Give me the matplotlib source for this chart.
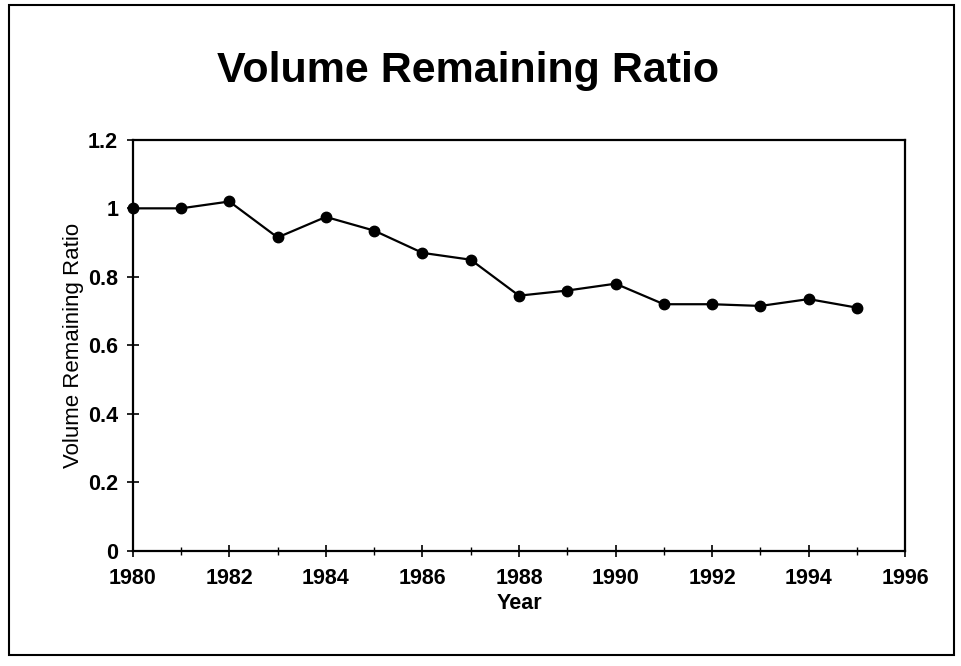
import matplotlib
matplotlib.use("Agg")
import matplotlib.pyplot as plt
from matplotlib.patches import Rectangle
from matplotlib.ticker import MultipleLocator

years = [1980, 1981, 1982, 1983, 1984, 1985, 1986, 1987,
         1988, 1989, 1990, 1991, 1992, 1993, 1994, 1995]
ratio = [1.00, 1.00, 1.02, 0.915, 0.975, 0.935, 0.87, 0.85,
         0.745, 0.76, 0.78, 0.72, 0.72, 0.715, 0.735, 0.71]
xticks = [1980, 1982, 1984, 1986, 1988, 1990, 1992, 1994, 1996]
yticks = [0, 0.2, 0.4, 0.6, 0.8, 1.0, 1.2]
yticklabels = ["0", "0.2", "0.4", "0.6", "0.8", "1", "1.2"]

plt.rcParams['font.family'] = ['Liberation Sans', 'DejaVu Sans']

fig = plt.figure(figsize=(9.62, 6.66), dpi=100)
fig.patches.append(Rectangle((0.009, 0.017), 0.983, 0.975, transform=fig.transFigure,
                             fill=False, edgecolor='black', linewidth=1.5))

ax = fig.add_axes([0.138, 0.173, 0.803, 0.617])
ax.plot(years, ratio, color='black', linewidth=1.6, marker='o', markersize=7.5,
        markerfacecolor='black', clip_on=False, zorder=3)
ax.set_xlim(1980, 1996)
ax.set_ylim(0, 1.2)
ax.set_xticks(xticks)
ax.set_xticklabels([str(t) for t in xticks], fontsize=15.5, fontweight='bold')
ax.xaxis.set_minor_locator(MultipleLocator(1))
ax.set_yticks(yticks)
ax.set_yticklabels(yticklabels, fontsize=15.5, fontweight='bold')
ax.tick_params(axis='both', which='major', direction='inout', length=9, width=1.2, color='black')
ax.tick_params(axis='x', which='minor', direction='inout', length=6, width=1.0)
ax.tick_params(axis='x', which='major', pad=8)
ax.tick_params(axis='y', which='major', pad=6)
for s in ax.spines.values():
    s.set_linewidth(1.6)
ax.set_xlabel("Year", fontsize=15.5, fontweight='bold', labelpad=3)
ax.set_ylabel("Volume Remaining Ratio", fontsize=16, labelpad=3)

fig.text(0.487, 0.893, "Volume Remaining Ratio", ha='center', va='center',
         fontsize=31, fontweight='bold')

fig.savefig("out.png", dpi=100)
